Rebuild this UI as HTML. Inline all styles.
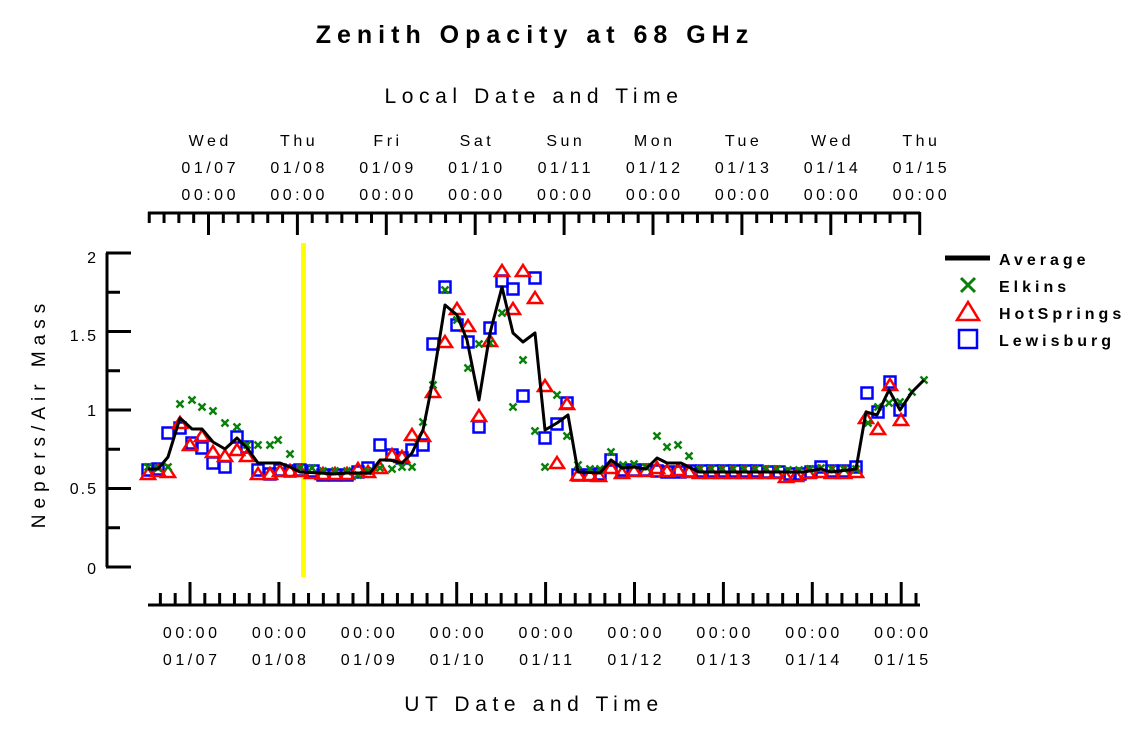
<!DOCTYPE html>
<html><head><meta charset="utf-8"><style>
html,body{margin:0;padding:0;background:#fff;}
svg{display:block;font-family:"Liberation Sans",sans-serif;}
</style></head><body>
<svg id="s" width="1125" height="731" viewBox="0 0 1125 731" xmlns="http://www.w3.org/2000/svg">
<rect width="1125" height="731" fill="#fff"/>
<text x="535" y="43" text-anchor="middle" font-size="25" font-weight="bold" letter-spacing="6">Zenith Opacity at 68 GHz</text>
<text x="534" y="103" text-anchor="middle" font-size="21" letter-spacing="5.6">Local Date and Time</text>
<text x="534" y="711" text-anchor="middle" font-size="21" letter-spacing="5.6">UT Date and Time</text>
<text transform="translate(45,413) rotate(-90)" text-anchor="middle" font-size="19" letter-spacing="6">Nepers/Air Mass</text>
<g font-size="16" text-anchor="end" letter-spacing="2">
<text x="98" y="263">2</text><text x="98" y="341">1.5</text><text x="98" y="416">1</text><text x="98" y="494">0.5</text><text x="98" y="574">0</text>
</g>
<rect x="301" y="243" width="5" height="334" fill="#ffff00"/>
<g id="g"></g>
<g font-size="16" font-weight="bold" letter-spacing="4">
<line x1="945" y1="258" x2="990" y2="258" stroke="#000" stroke-width="5"/>
<text x="999" y="265">Average</text>
<text x="999" y="292">Elkins</text>
<text x="999" y="319">HotSprings</text>
<text x="999" y="346">Lewisburg</text>
<path d="M961,278 L975,292 M975,278 L961,292" stroke="#0a800a" stroke-width="3"/>
<path d="M968,302 L979,320 L957,320 Z" fill="none" stroke="#f00" stroke-width="2.5"/>
<rect x="959" y="330" width="18" height="18" fill="none" stroke="#00f" stroke-width="2.5"/>
</g>
</svg>
<script>
var g=document.getElementById('g'),h='';
function L(x1,y1,x2,y2,w){h+='<line x1="'+x1+'" y1="'+y1+'" x2="'+x2+'" y2="'+y2+'" stroke="#000" stroke-width="'+(w||3)+'"/>';}
function T(x,y,s){h+='<text x="'+(x+1.7)+'" y="'+y+'" text-anchor="middle" font-size="16" letter-spacing="3.5">'+s+'</text>';}
L(148,213,920,213);
var days=['Wed','Thu','Fri','Sat','Sun','Mon','Tue','Wed','Thu'];
for(var i=0;i<9;i++){var x=208.5+i*88.9;T(x,146,days[i]);T(x,173,'01/'+('0'+(7+i)).slice(-2));T(x,200,'00:00');}
for(var x=208.5-88.9/6*4;x<=921;x+=88.9/6){var k=Math.round((x-208.5)/(88.9/6));var maj=(k%6==0);L(x,212,x,maj?235:223);}
L(148,605,920,605);
for(var i=0;i<9;i++){var x=190+i*88.9;T(x,638,'00:00');T(x,665,'01/'+('0'+(7+i)).slice(-2));}
for(var x=190-88.9/6*2;x<=921;x+=88.9/6){var k=Math.round((x-190)/(88.9/6));var maj=(k%6==0);L(x,606,x,maj?582:593);}
L(107,253,107,567);
for(var i=0;i<9;i++){var y=253+i*39.25;L(106,y,i%2==0?131:120,y);}
var A=[[148,469],[158,469],[168,457],[180,418],[192,429],[202,429],[213,442],[225,449],[237,438],[247,448],[258,463],[280,463],[290,467],[300,472],[320,473],[333,474],[347,473],[370,473],[380,460],[390,460],[402,463],[412,453],[423,430],[433,380],[445,305],[457,315],[467,340],[479,400],[490,333],[502,287],[513,333],[523,342],[535,333],[545,430],[557,423],[568,415],[578,472],[600,473],[611,460],[622,468],[634,467],[646,469],[657,458],[667,463],[681,463],[699,472],[782,472],[803,472],[821,469],[831,472],[856,469],[866,412],[877,415],[889,390],[900,410],[912,392],[924,380]];
var B=[[148,470],[158,469],[168,433],[180,428],[192,443],[202,448],[213,463],[225,467],[237,437],[247,447],[258,470],[270,474],[280,470],[290,471],[300,470],[313,471],[323,475],[335,475],[347,475],[358,472],[368,468],[380,445],[392,455],[402,458],[412,450],[423,445],[433,344],[445,287],[457,325],[468,342],[479,427],[490,328],[502,281],[513,289],[523,396],[535,278],[545,438],[557,424],[567,403],[578,475],[590,475],[600,474],[611,460],[622,470],[634,470],[646,470],[657,471],[667,472],[680,472],[690,471],[702,471],[713,471],[724,471],[735,471],[746,471],[757,471],[768,472],[779,472],[790,474],[800,474],[811,472],[821,467],[832,471],[844,471],[856,467],[867,393],[878,412],[890,382],[900,410]];
var R=[[148,474],[158,471],[168,472],[180,423],[190,445],[202,436],[213,452],[225,456],[237,450],[247,456],[258,474],[270,474],[280,471],[290,471],[300,471],[312,473],[323,474],[335,474],[347,474],[358,469],[368,472],[380,468],[392,455],[402,457],[412,435],[423,436],[433,392],[445,342],[457,309],[468,326],[479,416],[490,341],[502,271],[513,309],[523,271],[535,298],[545,386],[557,463],[567,404],[578,475],[590,475],[599,476],[611,468],[622,473],[634,471],[646,471],[657,468],[667,471],[678,470],[689,472],[700,473],[711,473],[722,473],[733,473],[744,473],[755,473],[766,473],[776,473],[786,477],[796,476],[808,473],[820,472],[832,473],[844,473],[856,472],[866,418],[878,429],[890,385],[901,420]];
var E=[[148,467],[158,468],[168,467],[180,404],[192,400],[202,407],[213,411],[225,423],[237,427],[247,445],[258,445],[270,445],[278,440],[290,454],[300,468],[312,468],[323,471],[335,471],[347,471],[358,475],[368,471],[380,468],[392,469],[402,467],[412,467],[423,422],[433,385],[445,290],[457,320],[468,368],[479,344],[490,343],[502,313],[513,407],[523,360],[535,431],[545,467],[557,395],[567,436],[578,465],[590,469],[600,469],[611,452],[623,465],[634,464],[646,467],[657,436],[667,447],[678,445],[689,456],[700,469],[711,469],[722,469],[733,469],[744,469],[755,469],[766,469],[777,469],[788,470],[799,470],[810,469],[821,468],[832,469],[844,469],[856,469],[868,423],[878,407],[889,403],[900,402],[912,392],[924,380]];
B.forEach(function(p){h+='<rect x="'+(p[0]-5.5)+'" y="'+(p[1]-5.5)+'" width="11" height="11" fill="none" stroke="#00f" stroke-width="2.5"/>';});
R.forEach(function(p){var x=p[0],y=p[1];h+='<path d="M'+x+','+(y-6)+' L'+(x+7)+','+(y+5)+' L'+(x-7)+','+(y+5)+' Z" fill="none" stroke="#f00" stroke-width="2.5"/>';});
E.forEach(function(p){var x=p[0],y=p[1];h+='<path d="M'+(x-3.5)+','+(y-3.5)+' L'+(x+3.5)+','+(y+3.5)+' M'+(x+3.5)+','+(y-3.5)+' L'+(x-3.5)+','+(y+3.5)+'" stroke="#0a800a" stroke-width="2.5"/>';});
h+='<polyline fill="none" stroke="#000" stroke-width="3" stroke-linejoin="round" points="'+A.map(function(p){return p.join(',');}).join(' ')+'"/>';
g.innerHTML=h;
</script>
</body></html>
